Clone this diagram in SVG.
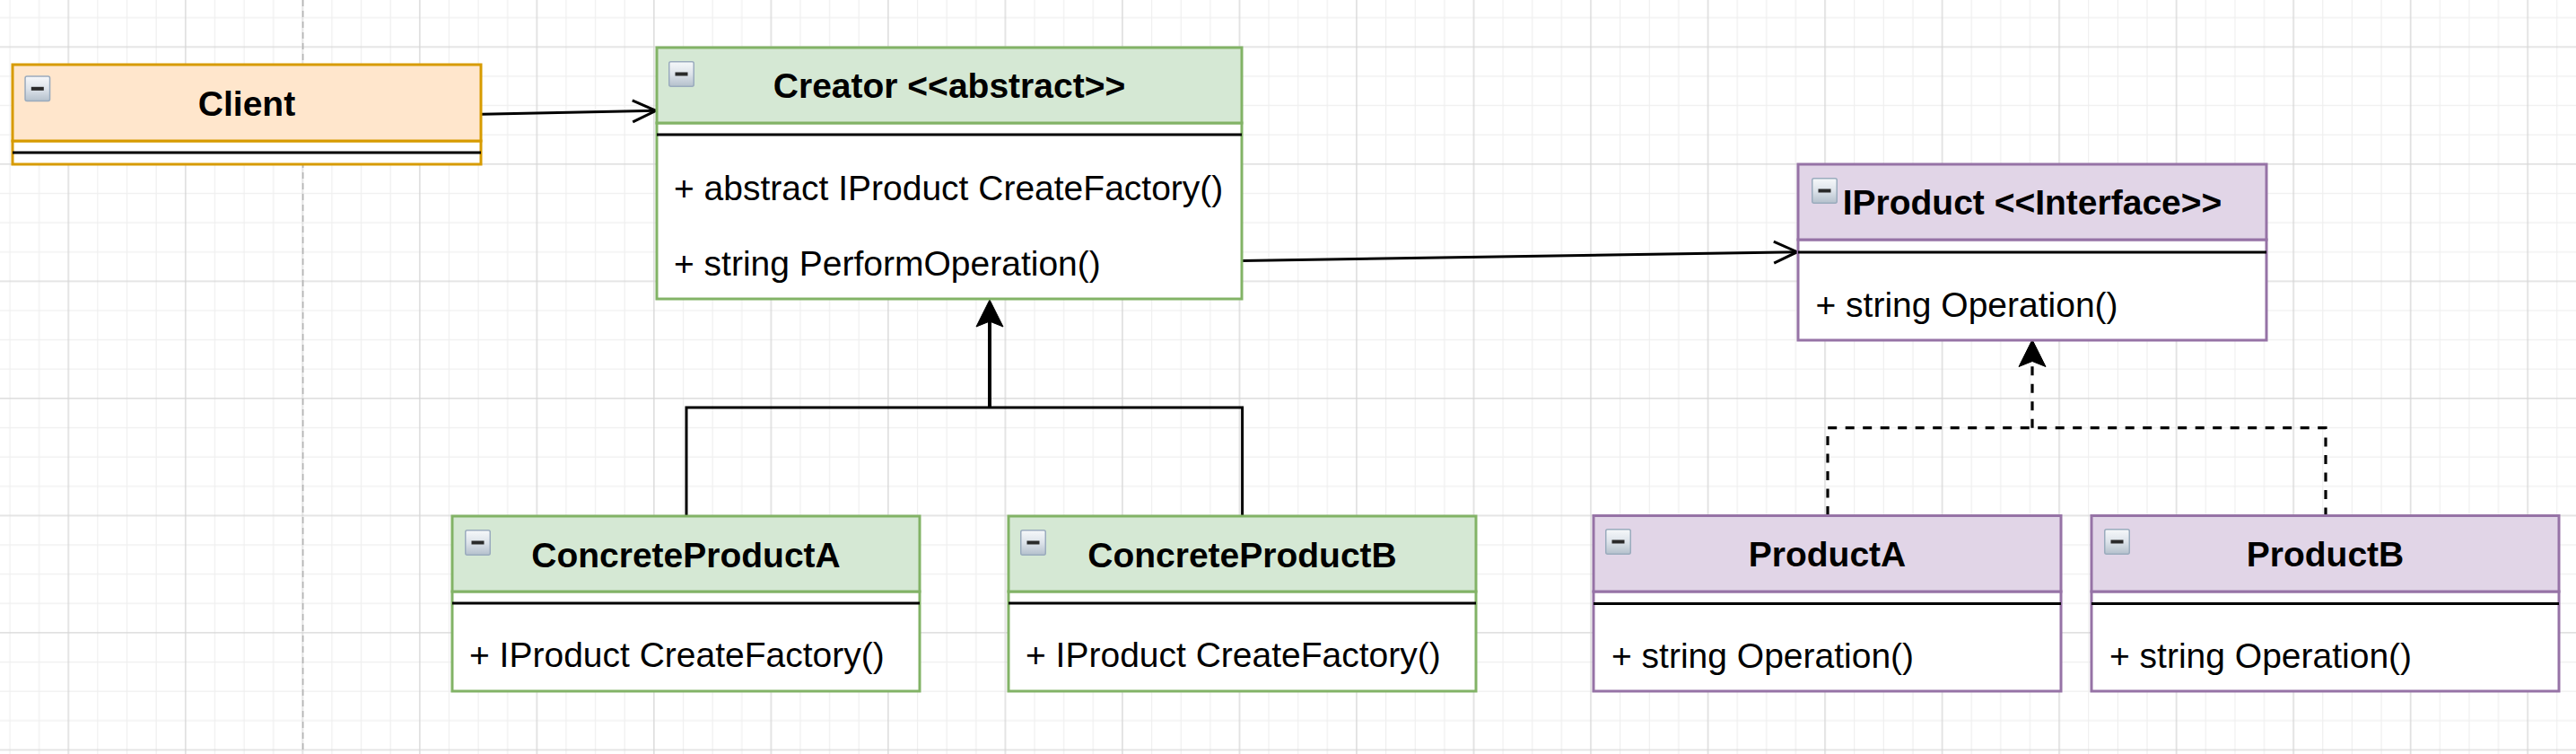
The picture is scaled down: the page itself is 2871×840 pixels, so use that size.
<svg xmlns="http://www.w3.org/2000/svg" xmlns:xlink="http://www.w3.org/1999/xlink" width="2871" height="840" viewBox="0 0 2871 840">
<style>
.t{font-family:"Liberation Sans",Arial,Helvetica,sans-serif;font-weight:bold;font-size:39px;fill:#000;text-anchor:middle}
.it{font-family:"Liberation Sans",Arial,Helvetica,sans-serif;font-size:39px;fill:#000}
.sep{stroke:#000;stroke-width:3}
.orange{fill:#ffe6cc;stroke:#d79b00;stroke-width:3}
.green{fill:#d5e8d4;stroke:#82b366;stroke-width:3}
.purple{fill:#e1d5e7;stroke:#9673a6;stroke-width:3}
.bo{fill:#fff;stroke:#d79b00;stroke-width:3}
.bg{fill:#fff;stroke:#82b366;stroke-width:3}
.bp{fill:#fff;stroke:#9673a6;stroke-width:3}
.edge{fill:none;stroke:#000;stroke-width:3}
.dash{fill:none;stroke:#000;stroke-width:3.2;stroke-dasharray:10 9.5}
</style>
<defs>
<pattern id="grid" patternUnits="userSpaceOnUse" x="-5.315" y="-29.275" width="130.52" height="130.52">
<path d="M16.315 0V130.52M48.945 0V130.52M114.205 0V130.52M0 16.315H130.52M0 48.945H130.52M0 114.205H130.52" stroke="#efefef" stroke-width="1.2"/>
<path d="M81.575 0V130.52M0 81.575H130.52" stroke="#d6d6d6" stroke-width="1.3"/>
</pattern>
<linearGradient id="ig" x1="0" y1="0" x2="0" y2="1">
<stop offset="0" stop-color="#f6f8fa"/>
<stop offset="0.5" stop-color="#dde3ea"/>
<stop offset="1" stop-color="#b4c0cc"/>
</linearGradient>
<g id="icon">
<rect x="0.75" y="0.75" width="27.5" height="27.5" rx="2" fill="url(#ig)" stroke="#9aabbd" stroke-width="1.5"/>
<rect x="7.5" y="12.5" width="14" height="4" fill="#2a2a2a"/>
</g>
<marker id="open" markerUnits="userSpaceOnUse" markerWidth="40" markerHeight="40" viewBox="-30 -20 40 40" refX="0" refY="0" orient="auto" overflow="visible">
<path d="M-26 -12L0 0L-26 12" fill="none" stroke="#000" stroke-width="3"/>
</marker>
<marker id="classic" markerUnits="userSpaceOnUse" markerWidth="40" markerHeight="40" viewBox="-10 -20 40 40" refX="0" refY="0" orient="auto" overflow="visible">
<path d="M24 0L-6 -15L0 0L-6 15Z" fill="#000" stroke="#000" stroke-width="1"/>
</marker>
</defs>

<rect x="0" y="0" width="2871" height="840" fill="#fff"/>
<rect x="0" y="0" width="2871" height="840" fill="url(#grid)"/>
<line x1="337.6" y1="0" x2="337.6" y2="840" stroke="#b4b4b4" stroke-width="1.6" stroke-dasharray="7 5"/>

<g id="connectors">
<line class="edge" x1="537" y1="127.3" x2="731" y2="123.3" marker-end="url(#open)"/>
<line class="edge" x1="1384" y1="290.5" x2="2003" y2="280.7" marker-end="url(#open)"/>
<path class="edge" d="M765 575V454H1384.6V575"/>
<path class="edge" style="stroke-width:4" d="M1103 454V358" marker-end="url(#classic)"/>
<path class="dash" d="M2037 574V476.7H2592V574"/>
<path class="dash" d="M2265 476.7V402.5" marker-end="url(#classic)"/>
</g>

<g id="client">
<rect class="bo" x="14" y="157" width="522" height="26"/>
<rect class="orange" x="14" y="72" width="522" height="85"/>
<line class="sep" x1="14" y1="170" x2="536" y2="170"/>
<use xlink:href="#icon" x="27.3" y="84.3"/>
<text class="t" x="275" y="128.5">Client</text>
</g>

<g id="creator">
<rect class="bg" x="732" y="137" width="652" height="196"/>
<rect class="green" x="732" y="53" width="652" height="84"/>
<line class="sep" x1="732" y1="150" x2="1384" y2="150"/>
<use xlink:href="#icon" x="745" y="68"/>
<text class="t" x="1058" y="109">Creator &lt;&lt;abstract&gt;&gt;</text>
<text class="it" x="751" y="223">+ abstract IProduct CreateFactory()</text>
<text class="it" x="751" y="307">+ string PerformOperation()</text>
</g>

<g id="iproduct">
<rect class="bp" x="2004" y="267" width="522" height="112"/>
<rect class="purple" x="2004" y="183" width="522" height="84"/>
<line class="sep" x1="2004" y1="281" x2="2526" y2="281"/>
<use xlink:href="#icon" x="2019" y="198"/>
<text class="t" x="2265" y="239">IProduct &lt;&lt;Interface&gt;&gt;</text>
<text class="it" x="2023.5" y="352.5">+ string Operation()</text>
</g>

<g id="concreteProductA">
<rect class="bg" x="504" y="659" width="521" height="111"/>
<rect class="green" x="504" y="575" width="521" height="84"/>
<line class="sep" x1="504" y1="672" x2="1025" y2="672"/>
<use xlink:href="#icon" x="518" y="590"/>
<text class="t" x="764.5" y="631.7">ConcreteProductA</text>
<text class="it" x="523" y="743">+ IProduct CreateFactory()</text>
</g>

<g id="concreteProductB">
<rect class="bg" x="1124" y="659" width="521" height="111"/>
<rect class="green" x="1124" y="575" width="521" height="84"/>
<line class="sep" x1="1124" y1="672" x2="1645" y2="672"/>
<use xlink:href="#icon" x="1137" y="590"/>
<text class="t" x="1384.5" y="631.7">ConcreteProductB</text>
<text class="it" x="1143" y="743">+ IProduct CreateFactory()</text>
</g>

<g id="productA">
<rect class="bp" x="1776" y="659" width="521" height="111"/>
<rect class="purple" x="1776" y="574.5" width="521" height="84.5"/>
<line class="sep" x1="1776" y1="672.5" x2="2297" y2="672.5"/>
<use xlink:href="#icon" x="1789" y="589"/>
<text class="t" x="2036.5" y="631">ProductA</text>
<text class="it" x="1796" y="743.5">+ string Operation()</text>
</g>

<g id="productB">
<rect class="bp" x="2331" y="659" width="521" height="111"/>
<rect class="purple" x="2331" y="574.5" width="521" height="84.5"/>
<line class="sep" x1="2331" y1="672.5" x2="2852" y2="672.5"/>
<use xlink:href="#icon" x="2345" y="589"/>
<text class="t" x="2591.5" y="631">ProductB</text>
<text class="it" x="2351" y="743.5">+ string Operation()</text>
</g>
</svg>
